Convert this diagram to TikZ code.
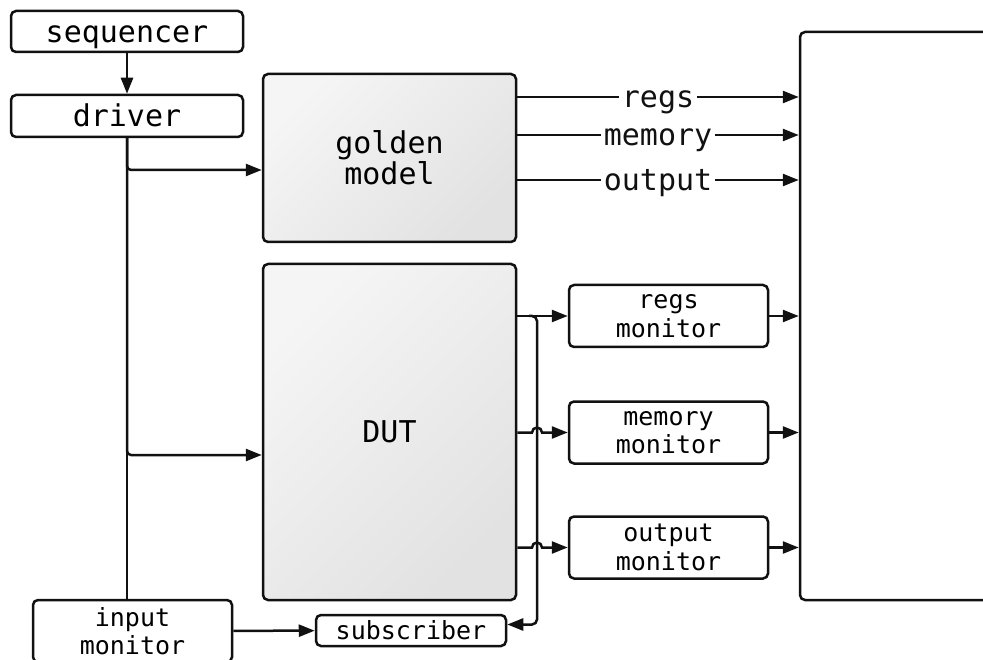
\documentclass[tikz,border=0pt]{standalone}
\usepackage{fontspec}
\setmonofont{DejaVu Sans Mono}
\usepackage{tikz}
\usetikzlibrary{calc,positioning,arrows.meta}
\definecolor{boxLight}{HTML}{F5F5F5}
\definecolor{boxDark}{HTML}{E2E2E2}
\definecolor{lineBlack}{HTML}{111111}

\begin{document}
\begin{tikzpicture}[
  x=1pt, y=-1pt,
  every node/.style={font=\ttfamily\fontsize{30}{31}\selectfont},
  blk/.style={
    rectangle, rounded corners=5pt, draw=lineBlack, line width=2.5pt,
    inner sep=0pt, align=center
  },
  oneline/.style={text height=29.5pt, text depth=7.5pt},
  smallline/.style={text height=24.75pt, text depth=6.25pt},
  shadedblk/.style={blk, left color=boxLight, right color=boxDark, shading angle=45},
  mon/.style={blk, fill=white, minimum width=199pt, minimum height=62pt,
    font=\ttfamily\fontsize{25}{28.5}\selectfont},
  arr/.style={-{Triangle[length=16pt,width=12pt]}, line width=2.5pt, lineBlack},
  lbl/.style={oneline, fill=white, inner xsep=3pt, inner ysep=0pt},
]

% === Frame: the picture is cut at its right and bottom edges ===
\useasboundingbox (0,0) rectangle (983,660);
\clip (0,0) rectangle (983,660);

% === Stimulus side ===
\node[blk, oneline, minimum width=232pt, minimum height=41pt] (seq) at (127,31.5) {sequencer};
\node[blk, oneline, minimum width=232pt, minimum height=42pt] (driver) at (127,116) {driver};
\draw[arr] (seq) -- (driver);

% === Models ===
\node[shadedblk, minimum width=253pt, minimum height=168pt] (golden) at (389.5,158) {golden\\model};
\node[shadedblk, minimum width=253pt, minimum height=336pt] (dut) at (389.5,432) {DUT};

% === Checker (runs off the right edge) ===
\node[blk, fill=white, minimum width=300pt, minimum height=568pt] (checker) at (950,316) {};

% === Monitors ===
\node[mon] (regsmon) at (668.5,316) {regs\\monitor};
\node[mon] (memmon) at (668.5,432.5) {memory\\monitor};
\node[mon] (outmon) at (668.5,547.5) {output\\monitor};
\node[mon] (inmon) at (132.5,631) {input\\monitor};
\node[mon, smallline, minimum width=190pt, minimum height=29pt] (sub) at (411,630.5) {subscriber};

% driver fans out to both models and the input monitor
\draw[line width=2.5pt, lineBlack] (driver.south) -- (driver.south |- inmon.north);
\draw[arr, rounded corners=4pt] (driver.south) |- ([yshift=-12pt]golden.west);
\draw[arr, rounded corners=4pt] (driver.south) |- ([yshift=-23pt]dut.west);

% golden model results
\draw[arr] (golden.east |- 0,97) -- node[lbl] {regs} (checker.west |- 0,97);
\draw[arr] (golden.east |- 0,135) -- node[lbl] {memory} (checker.west |- 0,135);
\draw[arr] (golden.east |- 0,180) -- node[lbl] {output} (checker.west |- 0,180);

% DUT to monitors, hopping over the tap line
\coordinate (tap) at (537,316);
\draw[arr] (dut.east |- regsmon) -- (regsmon.west);
\draw[arr] (dut.east |- memmon) -- ([xshift=-5pt]tap |- memmon)
  arc[start angle=180, end angle=0, radius=5pt] -- (memmon.west);
\draw[arr] (dut.east |- outmon) -- ([xshift=-5pt]tap |- outmon)
  arc[start angle=180, end angle=0, radius=5pt] -- (outmon.west);
\draw[arr, rounded corners=5pt] ([xshift=-8pt]tap) -- (tap) |- ([yshift=6pt]sub.east);

% monitors to checker
\draw[arr] (regsmon) -- (regsmon -| checker.west);
\draw[arr] (memmon) -- (memmon -| checker.west);
\draw[arr] (outmon) -- (outmon -| checker.west);
\draw[arr] (inmon) -- (sub);

\end{tikzpicture}
\end{document}
